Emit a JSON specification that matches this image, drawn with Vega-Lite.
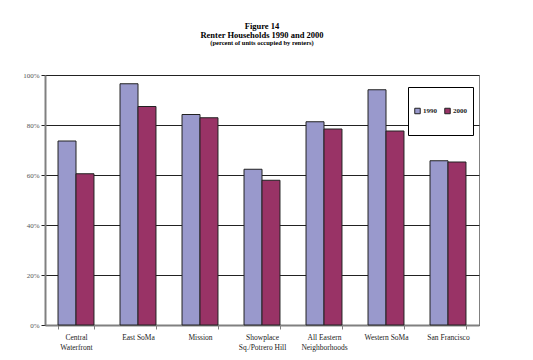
{
  "$schema": "https://vega.github.io/schema/vega-lite/v6.json",
  "width": 434,
  "height": 250,
  "autosize": {"type": "none"},
  "padding": {"left": 45, "top": 75, "right": 54, "bottom": 35},
  "background": "white",
  "data": {"values": [
    {"area": "Central Waterfront", "year": "1990", "pct": 0.736},
    {"area": "Central Waterfront", "year": "2000", "pct": 0.605},
    {"area": "East SoMa", "year": "1990", "pct": 0.965},
    {"area": "East SoMa", "year": "2000", "pct": 0.874},
    {"area": "Mission", "year": "1990", "pct": 0.842},
    {"area": "Mission", "year": "2000", "pct": 0.829},
    {"area": "Showplace Sq./Potrero Hill", "year": "1990", "pct": 0.623},
    {"area": "Showplace Sq./Potrero Hill", "year": "2000", "pct": 0.579},
    {"area": "All Eastern Neighborhoods", "year": "1990", "pct": 0.813},
    {"area": "All Eastern Neighborhoods", "year": "2000", "pct": 0.784},
    {"area": "Western SoMa", "year": "1990", "pct": 0.941},
    {"area": "Western SoMa", "year": "2000", "pct": 0.776},
    {"area": "San Francisco", "year": "1990", "pct": 0.657},
    {"area": "San Francisco", "year": "2000", "pct": 0.652}
  ]},
  "title": {
    "text": ["Figure 14", "Renter Households 1990 and 2000"],
    "subtitle": "(percent of units occupied by renters)",
    "font": "Liberation Serif",
    "fontSize": 8.5,
    "fontWeight": "bold",
    "color": "black",
    "lineHeight": 9.5,
    "subtitleFont": "Liberation Serif",
    "subtitleFontSize": 6.5,
    "subtitleFontWeight": "bold",
    "subtitleColor": "black",
    "subtitlePadding": 0,
    "anchor": "middle",
    "offset": 25
  },
  "mark": {"type": "bar", "stroke": "#222222", "strokeWidth": 1},
  "encoding": {
    "x": {
      "field": "area",
      "type": "nominal",
      "sort": null,
      "scale": {"paddingInner": 0.42, "paddingOuter": 0.21},
      "axis": {
        "title": null,
        "labelAngle": 0,
        "labelFont": "Liberation Serif",
        "labelFontSize": 7.5,
        "labelColor": "#222222",
        "labelLineHeight": 10,
        "labelPadding": 4,
        "labelLimit": 100,
        "labelExpr": "datum.label == 'Central Waterfront' ? ['Central', 'Waterfront'] : datum.label == 'Showplace Sq./Potrero Hill' ? ['Showplace', 'Sq./Potrero Hill'] : datum.label == 'All Eastern Neighborhoods' ? ['All Eastern', 'Neighborhoods'] : datum.label",
        "domainColor": "#808080",
        "domainWidth": 2,
        "tickColor": "#808080",
        "tickBand": "extent",
        "tickSize": 4,
        "tickWidth": 1
      }
    },
    "xOffset": {"field": "year", "type": "nominal", "scale": {"paddingInner": 0, "paddingOuter": 0}},
    "y": {
      "field": "pct",
      "type": "quantitative",
      "scale": {"domain": [0, 1], "nice": false},
      "axis": {
        "title": null,
        "format": ".0%",
        "values": [0, 0.2, 0.4, 0.6, 0.8, 1],
        "labelFont": "Liberation Serif",
        "labelFontSize": 7,
        "labelColor": "#555555",
        "labelPadding": 2,
        "domainColor": "#808080",
        "domainWidth": 2,
        "tickColor": "#222222",
        "tickSize": 4,
        "gridColor": "#222222",
        "gridWidth": 1
      }
    },
    "color": {
      "field": "year",
      "type": "nominal",
      "scale": {"domain": ["1990", "2000"], "range": ["#9999CC", "#993366"]},
      "legend": {
        "title": null,
        "orient": "none",
        "legendX": 363,
        "legendY": 12,
        "direction": "horizontal",
        "symbolType": "square",
        "symbolSize": 30,
        "symbolStrokeColor": "#222222",
        "symbolStrokeWidth": 1,
        "labelFont": "Liberation Serif",
        "labelFontSize": 7,
        "labelFontWeight": "bold",
        "labelColor": "#222222",
        "labelOffset": 2,
        "columnPadding": 7,
        "padding": 6,
        "clipHeight": 36,
        "strokeColor": "black",
        "fillColor": "white"
      }
    }
  },
  "config": {
    "view": {"stroke": "#808080", "strokeWidth": 1}
  }
}
